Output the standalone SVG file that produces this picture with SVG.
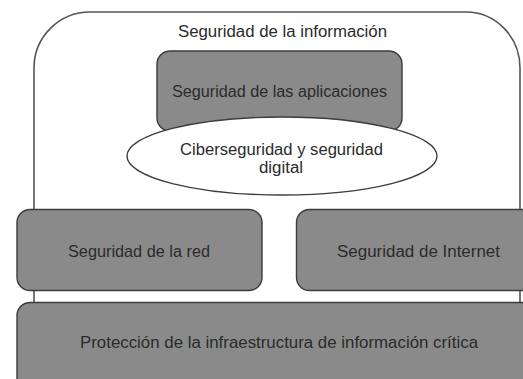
<svg xmlns="http://www.w3.org/2000/svg" width="523" height="379" viewBox="0 0 523 379">
<style>
.box{fill:#8a8a8a;stroke:#3c3c3c;stroke-width:1.4}
.outer{fill:#ffffff;stroke:#555555;stroke-width:1.6}
.ell{fill:#ffffff;stroke:#3c3c3c;stroke-width:1.4}
text{font-family:"Liberation Sans",Arial,sans-serif;font-size:16px;fill:#2b2b2b;text-anchor:middle}
</style>
<rect width="523" height="379" fill="#ffffff"/>
<g id="seguridad-informacion">
<path class="outer" d="M34,310 V68 A56,56 0 0 1 90,12 H466 A54,56 0 0 1 520,68 V310"/>
<text x="282.5" y="37" textLength="209" lengthAdjust="spacingAndGlyphs">Seguridad de la información</text>
</g>
<g id="seguridad-aplicaciones">
<rect class="box" x="157" y="51" width="245" height="80" rx="13"/>
<text x="279.5" y="97" textLength="215" lengthAdjust="spacingAndGlyphs">Seguridad de las aplicaciones</text>
</g>
<g id="ciberseguridad">
<ellipse class="ell" cx="282" cy="156" rx="155" ry="39"/>
<text x="281.5" y="155" textLength="203" lengthAdjust="spacingAndGlyphs">Ciberseguridad y seguridad</text>
<text x="281" y="173" textLength="44" lengthAdjust="spacingAndGlyphs">digital</text>
</g>
<g id="seguridad-red">
<rect class="box" x="17" y="209.5" width="245" height="81" rx="13"/>
<text x="139" y="257" textLength="142" lengthAdjust="spacingAndGlyphs">Seguridad de la red</text>
</g>
<g id="seguridad-internet">
<rect class="box" x="296.5" y="209.5" width="250" height="81" rx="13"/>
<text x="418.5" y="257" textLength="163" lengthAdjust="spacingAndGlyphs">Seguridad de Internet</text>
</g>
<g id="proteccion-infraestructura">
<rect class="box" x="17" y="302.5" width="530" height="110" rx="13"/>
<text x="279" y="348" textLength="398" lengthAdjust="spacingAndGlyphs">Protección de la infraestructura de información crítica</text>
</g>
<g id="connectors"></g>
</svg>
